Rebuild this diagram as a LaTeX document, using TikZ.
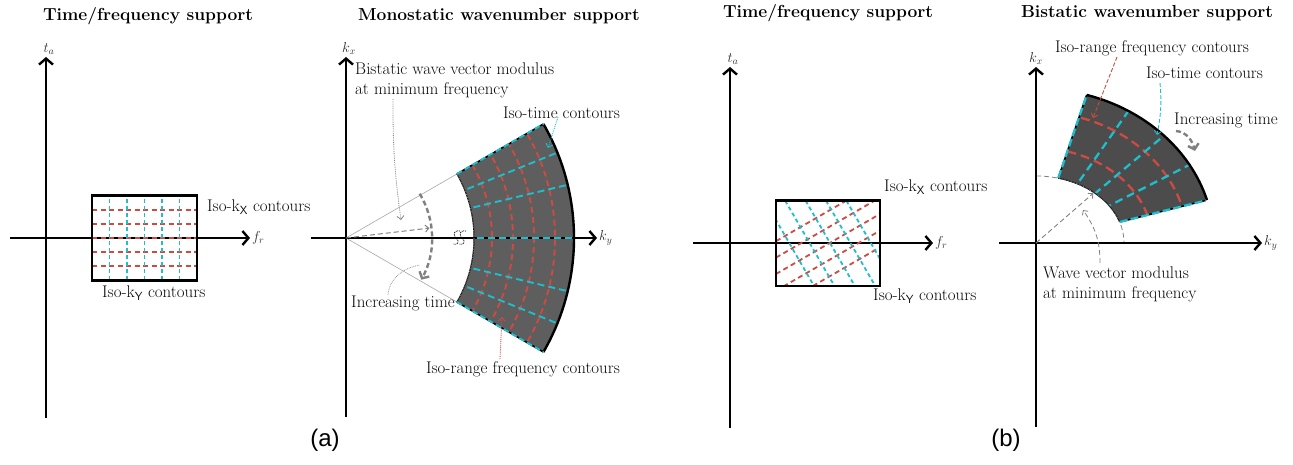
\documentclass[tikz,border=0pt]{standalone}
\usepackage{fontspec}
\newfontfamily\capfont{Liberation Sans}
\usetikzlibrary{arrows.meta}
\definecolor{cy}{RGB}{30,190,205}
\definecolor{rd}{RGB}{205,75,65}
\definecolor{fillA}{gray}{0.37}
\definecolor{fillB}{gray}{0.30}
\definecolor{txt}{gray}{0.04}
\tikzset{
  axis/.style={line width=2.4pt, -{Straight Barb[length=6pt,width=14pt]}},
  frame/.style={line width=2.4pt},
  lbl/.style={font=\fontsize{16.9}{19.5}\selectfont, text=txt, inner sep=0pt},
  ttl/.style={font=\fontsize{17.4}{20}\selectfont\bfseries, inner sep=0pt},
  axl/.style={font=\fontsize{14}{16}\selectfont, text=black!80, inner sep=1pt},
  captext/.style={font=\fontsize{24}{28}\selectfont\capfont, inner sep=0pt},
  redA/.style={rd, line width=1.8pt, dash pattern=on 5pt off 3.5pt},
  cyA/.style={cy, line width=1.8pt, dash pattern=on 4pt off 3pt},
  redB/.style={rd, line width=1.9pt, dash pattern=on 6pt off 4pt},
  cyB/.style={cy, line width=1.9pt, dash pattern=on 7pt off 4pt},
  redC/.style={rd, line width=2.3pt, dash pattern=on 9pt off 5pt},
  cyC/.style={cy, line width=2.3pt, dash pattern=on 8pt off 5pt},
  edgecy/.style={cy, line width=1.9pt, dash pattern=on 6pt off 3pt},
  thinarr/.style={-{Straight Barb[length=3.5pt,width=7pt]}},
  bigarr/.style={gray, line width=2.4pt, dash pattern=on 5pt off 3pt, -{Straight Barb[length=5pt,width=11pt]}},
}
\begin{document}
\begin{tikzpicture}[x=1pt,y=1pt]
\useasboundingbox (0,0) rectangle (1293,464);

% ---------- titles and captions ----------
\node[ttl] (t1) at (148,448) {Time/frequency support};
\node[ttl] (t2) at (499,448) {Monostatic wavenumber support};
\node[ttl] (t3) at (828,451) {Time/frequency support};
\node[ttl] (t4) at (1147,451) {Bistatic wavenumber support};
\node[captext] (capa) at (325,24) {(a)};
\node[captext] (capb) at (1006,24) {(b)};

% ---------- panel 1 ----------
\begin{scope}[shift={(46,226)}]
  \draw[axis] (0,-180) -- (0,181) node[axl, anchor=south, xshift=3pt] (ta1) {$t_a$};
  \draw[axis] (-36,0) -- (204,0) node[axl, anchor=west] (fr1) {$f_r$};
  \foreach \y in {28.33,14.17,0,-14.17,-28.33}
    \draw[redA] (46,\y) -- (151,\y);
  \foreach \x in {63.5,81,98.5,116,133.5}
    \draw[cyA] (\x,-42.5) -- (\x,42.5);
  \draw[frame] (46,-42.5) rectangle (151,42.5);
  \node[lbl, anchor=west] (kx1) at (161,31) {Iso-k$_{\mathsf{X}}$ contours};
  \node[lbl, anchor=west] (ky1) at (56,-55) {Iso-k$_{\mathsf{Y}}$ contours};
\end{scope}

% ---------- panel 2 ----------
\begin{scope}[shift={(346,226)}]
  \draw[gray!70, line width=0.6pt] (0,0) -- (30:128pt);
  \draw[gray!70, line width=0.6pt] (0,0) -- (-30:128pt);
  \fill[fillA] (30:128pt) arc[start angle=30,end angle=-30,radius=128pt]
     -- (-30:228pt) arc[start angle=-30,end angle=30,radius=228pt] -- cycle;
  \draw[axis] (0,-179) -- (0,181) node[axl, anchor=south, xshift=3pt] (kx2) {$k_x$};
  \draw[axis] (-35,0) -- (251,0) node[axl, anchor=west] (ky2) {$k_y$};
  \begin{scope}
    \clip (30:128pt) arc[start angle=30,end angle=-30,radius=128pt]
     -- (-30:228pt) arc[start angle=-30,end angle=30,radius=228pt] -- cycle;
    \foreach \r in {146,167,188,209}
      \draw[redB] (-35:\r pt) arc[start angle=-35,end angle=35,radius=\r pt];
    \foreach \a in {-22,-13.5,0,13.5,22}
      \draw[cyB] (\a:120pt) -- (\a:235pt);
  \end{scope}
  \draw[line width=2.4pt] (-30:228pt) arc[start angle=-30,end angle=30,radius=228pt];
  \draw[line width=1pt] (30:128pt) arc[start angle=30,end angle=-30,radius=128pt];
  \draw[gray!60, line width=0.6pt, densely dotted] (30:128pt) arc[start angle=30,end angle=-30,radius=128pt];
  \draw[line width=1.6pt] (30:128pt) -- (30:228pt);
  \draw[line width=1.6pt] (-30:128pt) -- (-30:228pt);
  \draw[edgecy] (30:128pt) -- (30:228pt);
  \draw[edgecy] (-30:128pt) -- (-30:228pt);
  % break mark
  \foreach \dx in {0,6}
    \draw[line width=0.8pt, densely dotted, xshift=\dx pt]
      (114,7) .. controls (109,9) and (106,3) .. (110,0) .. controls (114,-3) and (112,-8) .. (107,-6);
  % annotations
  \coordinate (o2) at (0,0);
  \node[lbl, anchor=west, align=left] (bw) at (9,157.5) {Bistatic wave vector modulus\\at minimum frequency};
  \coordinate (bwa) at (47,139);
  \coordinate (bwb) at (55,18);
  \draw[gray, line width=0.8pt, densely dotted, thinarr] (bwa) to[bend right=4] (bwb);
  \coordinate (wv) at (6.8:84pt);
  \draw[gray, line width=1pt, dash pattern=on 5pt off 3pt, thinarr] (o2) -- (wv);
  \draw[bigarr] (31:86pt) arc[start angle=31,end angle=-29,radius=86pt];
  \node[lbl] (it2) at (57,-65) {Increasing time};
  \coordinate (ita) at (42,-57);
  \coordinate (itb) at (74,-27);
  \draw[gray, line width=0.7pt, densely dotted] (ita) to[out=85,in=190] (itb);
  \node[lbl] (ic2) at (215.5,125) {Iso-time contours};
  \coordinate (ica) at (212,121);
  \coordinate (icb) at (202,90);
  \draw[cy, line width=0.9pt, densely dotted, thinarr] (ica) -- (icb);
  \node[lbl] (ir2) at (177,-131) {Iso-range frequency contours};
  \coordinate (ira) at (154,-121);
  \coordinate (irb) at (156,-79);
  \draw[rd, line width=0.9pt, densely dotted, thinarr] (ira) -- (irb);
\end{scope}

% ---------- panel 3 ----------
\begin{scope}[shift={(730,221)}]
  \draw[axis] (0,-185) -- (0,176) node[axl, anchor=south, xshift=3pt] (ta3) {$t_a$};
  \draw[axis] (-37,0) -- (203,0) node[axl, anchor=west] (fr3) {$f_r$};
  \begin{scope}
    \clip (46,-43) rectangle (150,42.3);
    \foreach \y in {1.8,-14.6,-31,-47.7,-64.3}
      \draw[redA] (46,\y) -- ++(30:200pt);
    \foreach \x in {34.8,55.2,75.6,96,116.4}
      \draw[cyA] (\x,42.3) -- ++(-60:150pt);
  \end{scope}
  \draw[frame] (46,-43) rectangle (150,42.3);
  \node[lbl, anchor=west] (kx3) at (154,56) {Iso-k$_{\mathsf{X}}$ contours};
  \node[lbl, anchor=west] (ky3) at (143,-53) {Iso-k$_{\mathsf{Y}}$ contours};
\end{scope}

% ---------- panel 4 ----------
\begin{scope}[shift={(1036,221)}]
  \draw[gray, line width=0.8pt, dash pattern=on 5pt off 3pt] (0,67) arc[start angle=90,end angle=0,x radius=88pt,y radius=67pt];
  \fill[fillB] (18.3:88pt and 67pt) arc[start angle=18.3,end angle=75.4,x radius=88pt,y radius=67pt]
     -- (73.45:178pt and 154.5pt) arc[start angle=73.45,end angle=16.14,x radius=178pt,y radius=154.5pt] -- cycle;
  \draw[axis] (0,-184) -- (0,176) node[axl, anchor=south] (kx4) {$k_x$};
  \draw[axis] (-37,0) -- (226,0) node[axl, anchor=west] (ky4) {$k_y$};
  \begin{scope}
    \clip (18.3:88pt and 67pt) arc[start angle=18.3,end angle=75.4,x radius=88pt,y radius=67pt]
     -- (73.45:178pt and 154.5pt) arc[start angle=73.45,end angle=16.14,x radius=178pt,y radius=154.5pt] -- cycle;
    \draw[redC] (0:116.5pt and 95pt) arc[start angle=0,end angle=90,x radius=116.5pt,y radius=95pt];
    \draw[redC] (0:152pt and 131pt) arc[start angle=0,end angle=90,x radius=152pt,y radius=131pt];
    \foreach \a in {27,40,55}
      \draw[cyC] (\a:50pt) -- (\a:200pt);
  \end{scope}
  \draw[line width=2.4pt] (73.45:178pt and 154.5pt) arc[start angle=73.45,end angle=16.14,x radius=178pt,y radius=154.5pt];
  \draw[line width=1pt] (18.3:88pt and 67pt) arc[start angle=18.3,end angle=75.4,x radius=88pt,y radius=67pt];
  \draw[gray!60, line width=0.6pt, densely dotted] (18.3:88pt and 67pt) arc[start angle=18.3,end angle=75.4,x radius=88pt,y radius=67pt];
  \draw[line width=1.6pt] (14.1:86.5pt) -- (14.1:175pt);
  \draw[line width=1.6pt] (71.1:69pt) -- (71.1:156.5pt);
  \draw[cyC, dash pattern=on 8pt off 3pt] (14.1:86.5pt) -- (14.1:175pt);
  \draw[cyC, dash pattern=on 8pt off 3pt] (71.1:69pt) -- (71.1:156.5pt);
  % annotations
  \coordinate (o4) at (0,0);
  \coordinate (wv4) at (57.3,49.7);
  \draw[gray, line width=0.9pt, dash pattern=on 5pt off 3pt, thinarr] (o4) -- (wv4);
  \node[lbl, anchor=west, align=left] (wvt) at (7,-41.5) {Wave vector modulus\\at minimum frequency};
  \coordinate (wva) at (64,-20);
  \coordinate (wvb) at (47,33);
  \draw[gray, line width=0.8pt, dash pattern=on 5pt off 3pt, thinarr] (wva) to[out=90,in=-55] (wvb);
  \node[lbl] (ir4) at (116,195) {Iso-range frequency contours};
  \coordinate (ira4) at (81,186);
  \coordinate (irb4) at (57,125);
  \draw[rd, line width=0.9pt, dash pattern=on 4pt off 2pt, thinarr] (ira4) -- (irb4);
  \node[lbl] (ic4) at (168.5,170) {Iso-time contours};
  \coordinate (ica4) at (124,160);
  \coordinate (icb4) at (121,108);
  \draw[cy, line width=0.9pt, dash pattern=on 4pt off 2pt, thinarr] (ica4) to[bend left=8] (icb4);
  \node[lbl] (it4) at (190,123) {Increasing time};
  \coordinate (ita4) at (140,112);
  \coordinate (itb4) at (159,92);
  \draw[bigarr] (ita4) to[out=-5,in=105] (itb4);
\end{scope}
\end{tikzpicture}
\end{document}
